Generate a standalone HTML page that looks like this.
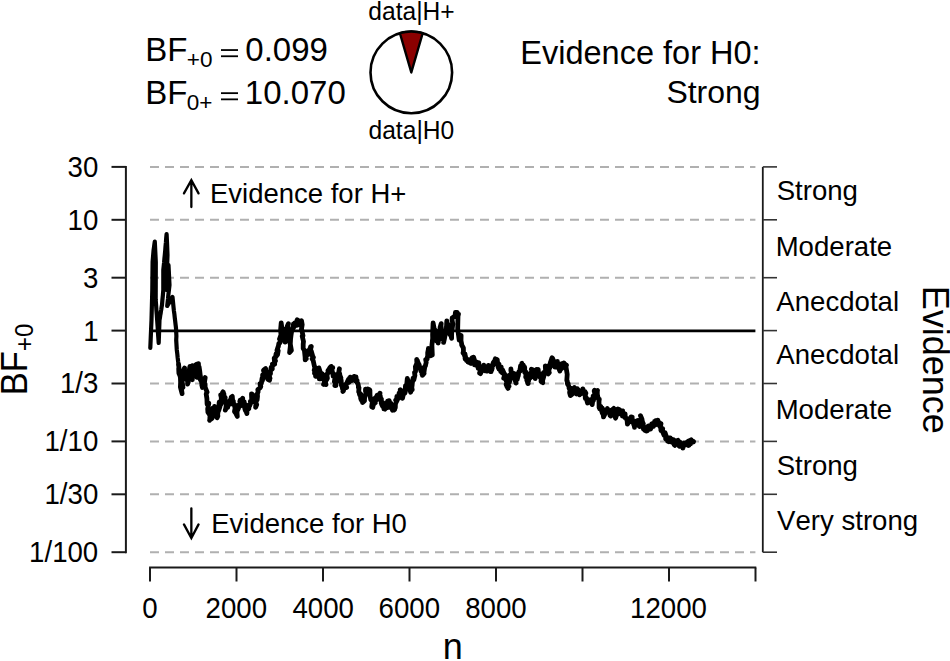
<!DOCTYPE html><html><head><meta charset="utf-8"><style>html,body{margin:0;padding:0;background:#fff;overflow:hidden;width:950px;height:661px;}svg{display:block;}text{font-family:"Liberation Sans",sans-serif;fill:#000;font-kerning:none;}</style></head><body>
<svg width="950" height="661" viewBox="0 0 950 661">
<rect width="950" height="661" fill="#fff"/>
<line x1="150.0" y1="166.9" x2="755.4" y2="166.9" stroke="#b0b0b0" stroke-width="2" stroke-dasharray="9 6"/>
<line x1="150.0" y1="219.8" x2="755.4" y2="219.8" stroke="#b0b0b0" stroke-width="2" stroke-dasharray="9 6"/>
<line x1="150.0" y1="277.7" x2="755.4" y2="277.7" stroke="#b0b0b0" stroke-width="2" stroke-dasharray="9 6"/>
<line x1="150.0" y1="383.5" x2="755.4" y2="383.5" stroke="#b0b0b0" stroke-width="2" stroke-dasharray="9 6"/>
<line x1="150.0" y1="441.4" x2="755.4" y2="441.4" stroke="#b0b0b0" stroke-width="2" stroke-dasharray="9 6"/>
<line x1="150.0" y1="494.3" x2="755.4" y2="494.3" stroke="#b0b0b0" stroke-width="2" stroke-dasharray="9 6"/>
<line x1="150.0" y1="552.2" x2="755.4" y2="552.2" stroke="#b0b0b0" stroke-width="2" stroke-dasharray="9 6"/>
<line x1="150.0" y1="330.9" x2="755.4" y2="330.9" stroke="#000" stroke-width="2.8"/>
<line x1="125.9" y1="166.9" x2="125.9" y2="552.2" stroke="#1a1a1a" stroke-width="2" stroke-linecap="square"/>
<line x1="111.5" y1="166.9" x2="125.9" y2="166.9" stroke="#1a1a1a" stroke-width="2"/>
<text transform="translate(67.54,176.83) scale(0.98,1.045)" font-size="28.2">30</text>
<line x1="111.5" y1="219.8" x2="125.9" y2="219.8" stroke="#1a1a1a" stroke-width="2"/>
<text transform="translate(67.54,229.70) scale(0.98,1.045)" font-size="28.2">10</text>
<line x1="111.5" y1="277.7" x2="125.9" y2="277.7" stroke="#1a1a1a" stroke-width="2"/>
<text transform="translate(83.04,287.63) scale(0.98,1.045)" font-size="28.2">3</text>
<line x1="111.5" y1="330.6" x2="125.9" y2="330.6" stroke="#1a1a1a" stroke-width="2"/>
<text transform="translate(83.18,340.50) scale(0.98,1.045)" font-size="28.2">1</text>
<line x1="111.5" y1="383.5" x2="125.9" y2="383.5" stroke="#1a1a1a" stroke-width="2"/>
<text transform="translate(60.00,393.37) scale(0.98,1.045)" font-size="28.2">1/3</text>
<line x1="111.5" y1="441.4" x2="125.9" y2="441.4" stroke="#1a1a1a" stroke-width="2"/>
<text transform="translate(44.49,451.30) scale(0.98,1.045)" font-size="28.2">1/10</text>
<line x1="111.5" y1="494.3" x2="125.9" y2="494.3" stroke="#1a1a1a" stroke-width="2"/>
<text transform="translate(44.49,504.17) scale(0.98,1.045)" font-size="28.2">1/30</text>
<line x1="111.5" y1="552.2" x2="125.9" y2="552.2" stroke="#1a1a1a" stroke-width="2"/>
<text transform="translate(29.12,562.10) scale(0.98,1.045)" font-size="28.2">1/100</text>
<line x1="762.8" y1="166.9" x2="762.8" y2="552.2" stroke="#1a1a1a" stroke-width="1.8"/>
<line x1="762.8" y1="166.9" x2="777" y2="166.9" stroke="#333" stroke-width="1.6"/>
<line x1="762.8" y1="219.8" x2="777" y2="219.8" stroke="#333" stroke-width="1.6"/>
<line x1="762.8" y1="277.7" x2="777" y2="277.7" stroke="#333" stroke-width="1.6"/>
<line x1="762.8" y1="330.6" x2="777" y2="330.6" stroke="#333" stroke-width="1.6"/>
<line x1="762.8" y1="383.5" x2="777" y2="383.5" stroke="#333" stroke-width="1.6"/>
<line x1="762.8" y1="441.4" x2="777" y2="441.4" stroke="#333" stroke-width="1.6"/>
<line x1="762.8" y1="494.3" x2="777" y2="494.3" stroke="#333" stroke-width="1.6"/>
<line x1="762.8" y1="552.2" x2="777" y2="552.2" stroke="#333" stroke-width="1.6"/>
<text transform="translate(776.65,200.27) scale(1.0,1.03)" font-size="27.6">Strong</text>
<text transform="translate(775.64,255.67) scale(1.0,1.03)" font-size="27.6">Moderate</text>
<text transform="translate(776.35,311.07) scale(1.0,1.03)" font-size="27.6">Anecdotal</text>
<text transform="translate(776.35,363.93) scale(1.0,1.03)" font-size="27.6">Anecdotal</text>
<text transform="translate(775.64,419.33) scale(1.0,1.03)" font-size="27.6">Moderate</text>
<text transform="translate(776.65,474.73) scale(1.0,1.03)" font-size="27.6">Strong</text>
<text transform="translate(777.08,530.13) scale(1.0,1.03)" font-size="27.6">Very strong</text>
<line x1="149.1" y1="567.6" x2="756.3" y2="567.6" stroke="#1a1a1a" stroke-width="2"/>
<line x1="150.0" y1="567.6" x2="150.0" y2="581.5" stroke="#1a1a1a" stroke-width="2"/>
<text transform="translate(142.32,617.80) scale(0.98,1.035)" font-size="28.2">0</text>
<line x1="236.5" y1="567.6" x2="236.5" y2="581.5" stroke="#1a1a1a" stroke-width="2"/>
<text transform="translate(205.61,617.80) scale(0.98,1.035)" font-size="28.2">2000</text>
<line x1="323.0" y1="567.6" x2="323.0" y2="581.5" stroke="#1a1a1a" stroke-width="2"/>
<text transform="translate(292.48,617.80) scale(0.98,1.035)" font-size="28.2">4000</text>
<line x1="409.5" y1="567.6" x2="409.5" y2="581.5" stroke="#1a1a1a" stroke-width="2"/>
<text transform="translate(378.60,617.80) scale(0.98,1.035)" font-size="28.2">6000</text>
<line x1="496.0" y1="567.6" x2="496.0" y2="581.5" stroke="#1a1a1a" stroke-width="2"/>
<text transform="translate(465.20,617.80) scale(0.98,1.035)" font-size="28.2">8000</text>
<line x1="582.5" y1="567.6" x2="582.5" y2="581.5" stroke="#1a1a1a" stroke-width="2"/>
<line x1="669.0" y1="567.6" x2="669.0" y2="581.5" stroke="#1a1a1a" stroke-width="2"/>
<text transform="translate(630.06,617.80) scale(0.98,1.035)" font-size="28.2">12000</text>
<line x1="755.5" y1="567.6" x2="755.5" y2="581.5" stroke="#1a1a1a" stroke-width="2"/>
<text x="442.66" y="659.00" font-size="36">n</text>
<g transform="translate(26.7,392.3) rotate(-90)">
<text x="-2.9" y="0" font-size="34.5" transform="scale(1,1.05)">BF<tspan font-size="24.2" dy="6.1">+0</tspan></text></g>
<g transform="translate(922.8,285.8) rotate(90)"><text x="0" y="0" font-size="36">Evidence</text></g>
<path d="M191.35,207.0 L191.35,180.2 M183.95,193.39999999999998 L191.35,180.2 L198.54999999999998,193.39999999999998" fill="none" stroke="#000" stroke-width="2.3" stroke-linecap="round" stroke-linejoin="miter"/>
<path d="M191.35,508.3 L191.35,538.0 M183.95,524.4 L191.35,538.0 L198.54999999999998,524.4" fill="none" stroke="#000" stroke-width="2.3" stroke-linecap="round" stroke-linejoin="miter"/>
<text x="209.94" y="202.50" font-size="27.5">Evidence for H+</text>
<text x="211.24" y="533.10" font-size="27.5">Evidence for H0</text>
<text x="145.19" y="61.20" font-size="33.0">BF</text>
<text x="186.80" y="67.00" font-size="22.5">+0</text>
<rect x="221" y="49.15" width="17" height="1.8" fill="#000"/><rect x="221" y="55.35" width="17" height="1.8" fill="#000"/>
<text x="245.31" y="61.20" font-size="33.0">0.099</text>
<text x="145.19" y="104.20" font-size="33.0">BF</text>
<text x="186.82" y="110.20" font-size="22.5">0+</text>
<rect x="221" y="92.25" width="17" height="1.8" fill="#000"/><rect x="221" y="98.45" width="17" height="1.8" fill="#000"/>
<text x="244.86" y="104.20" font-size="33.0">10.070</text>
<text x="520.31" y="64.30" font-size="32.5">Evidence for H0:</text>
<text x="666.38" y="103.40" font-size="32.0">Strong</text>
<circle cx="411.3" cy="72.4" r="40.8" fill="#fff" stroke="#000" stroke-width="2.6"/>
<path d="M411.3,72.4 L399.91,33.22 A40.8,40.8 0 0 1 422.69,33.22 Z" fill="#8b0000" stroke="#000" stroke-width="2.4" stroke-linejoin="round"/>
<text transform="translate(368.29,19.90) scale(1.0,1.05)" font-size="24.6">data|H+</text>
<text transform="translate(368.51,139.40) scale(1.0,1.05)" font-size="24.6">data|H0</text>
<polyline points="150.3,348.0 150.7,338.7 151.1,329.3 151.5,320.0 151.9,305.0 152.3,290.0 152.6,262.0 153.1,256.0 153.6,250.0 154.0,247.2 154.4,244.3 154.8,241.5 155.3,251.8 155.8,262.0 155.7,300.0 156.1,305.0 156.4,310.0 156.8,315.0 157.2,320.6 157.6,326.2 157.9,331.8 158.3,337.4 158.7,343.0 159.1,331.5 159.5,320.0 159.9,317.9 160.2,315.7 160.6,313.6 160.9,311.4 161.3,309.3 161.6,307.1 162.0,305.0 162.4,300.0 162.9,295.0 163.3,290.0 163.3,270.0 163.7,266.2 164.1,262.5 164.4,258.8 164.8,255.0 165.2,250.8 165.5,246.6 165.9,242.4 166.2,238.2 166.6,234.0 167.1,244.5 167.5,255.0 167.1,266.7 166.7,278.3 166.3,290.0 166.7,285.8 167.0,281.7 167.4,277.5 167.8,273.3 168.1,269.2 168.5,265.0 169.0,275.0 169.5,285.0 169.1,288.5 168.7,292.0 168.3,295.5 168.0,299.0 167.6,302.5 167.2,306.0 167.6,305.4 167.9,304.8 168.3,304.2 168.6,303.6 169.0,303.0 169.3,302.4 169.7,301.8 170.0,301.2 170.4,300.6 170.7,300.0 171.1,299.4 171.4,298.8 171.8,298.2 172.1,297.6 172.5,297.0 173.0,302.0 173.5,307.0 173.9,310.7 174.4,314.3 174.8,318.0 175.2,321.3 175.6,324.7 176.0,328.0 176.4,336.0 176.2,340.0 176.8,350.0 177.3,354.0 177.7,358.0 178.2,362.0 178.6,364.6" fill="none" stroke="#000" stroke-width="4.2" stroke-linejoin="round" stroke-linecap="round"/>
<polyline points="178.6,364.6 178.9,367.2 178.7,368.9 178.9,373.2 179.8,375.2 180.4,377.5 180.6,382.2 180.4,387.1 182.1,393.6 181.4,388.5 183.0,387.5 182.4,383.7 182.1,382.1 182.9,377.9 183.0,370.8 184.6,368.0 184.5,368.7 184.5,372.2 184.3,373.1 184.9,371.9 185.7,376.3 186.3,375.7 186.2,377.7 187.3,380.7 187.4,379.2 188.3,381.9 187.6,384.1 187.7,381.8 189.3,375.4 189.2,370.5 189.9,366.3 190.1,366.3 190.0,370.1 190.9,372.5 191.0,375.1 192.3,379.7 192.2,374.4 192.6,368.8 193.5,368.2 192.6,365.6 193.7,366.7 193.7,368.1 193.4,372.1 195.0,374.8 194.4,371.9 195.9,370.0 195.5,365.2 196.7,364.2 197.0,368.3 196.6,368.4 197.8,371.5 196.9,377.3 197.5,368.4 198.5,363.7 198.4,367.6 199.1,366.9 199.7,370.9 200.3,376.1 200.5,376.1 199.9,378.7 201.6,381.7 202.0,383.4 201.7,382.9 202.5,383.3 201.8,385.0 202.4,387.5 202.6,386.0 203.1,382.0 203.9,380.3 205.2,377.6 204.3,383.2 205.1,384.0 205.1,387.1 207.1,392.1 206.6,392.8 206.2,394.1 206.9,398.5 207.1,404.1 208.8,403.3 207.7,409.0 207.9,412.2 210.0,415.3 209.8,420.1 209.6,420.3 210.7,418.6 211.0,419.2 210.4,417.0 212.1,418.1 212.2,417.1 212.4,415.7 212.4,411.5 211.9,410.9 212.7,408.1 213.8,408.0 213.8,410.2 215.1,408.9 214.4,407.8 214.5,406.4 214.9,408.6 216.6,413.0 216.2,416.4 217.2,417.8 217.3,413.5 217.9,416.2 217.7,413.9 218.6,409.6 219.0,408.9 218.6,410.7 220.0,406.4 218.9,406.6 219.2,402.1 220.8,404.6 221.1,399.3 221.2,402.1 221.3,397.5 220.7,394.9 222.2,397.7 223.1,394.0 223.3,392.1 222.5,392.6 223.0,391.9 223.9,393.9 223.9,396.1 225.2,397.6 224.7,400.8 225.9,404.1 226.2,405.4 225.9,407.9 225.3,410.1 226.0,408.8 227.4,405.7 227.2,405.7 227.7,407.5 228.0,404.6 228.8,404.9 228.8,401.7 228.6,401.5 229.4,403.3 230.2,401.3 230.0,402.2 230.4,399.8 231.1,398.4 231.2,397.2 232.3,396.4 232.5,398.9 231.8,401.6 233.4,401.1 232.3,403.9 233.2,401.7 233.2,402.9 234.4,404.3 235.2,409.3 235.2,407.6 234.5,411.5 236.4,414.1 236.7,412.2 236.3,414.5 237.3,416.4 236.9,411.2 237.1,411.9 237.4,409.2 237.2,410.8 238.3,408.9 238.5,405.1 239.1,407.1 240.4,403.2 240.7,405.8 239.8,401.3 241.0,399.9 240.2,400.0 242.0,399.7 241.2,400.6 242.7,398.2 242.7,401.3 241.9,399.8 242.9,403.8 244.2,401.7 244.3,405.5 244.7,403.7 245.1,404.6 244.5,407.5 245.9,408.9 244.8,408.5 245.4,410.7 245.6,409.6 246.0,410.3 246.5,412.6 246.9,413.6 247.0,411.2 247.1,409.2 247.4,407.6 248.8,408.8 249.0,404.9 248.7,407.5 249.6,405.8 250.7,403.0 250.4,401.3 251.7,401.6 251.7,398.7 251.7,399.4 251.6,396.7 251.5,393.8 253.0,394.9 252.3,396.8 253.9,396.9 254.0,401.9 253.6,399.9 254.3,401.0 254.7,401.3 256.0,402.8 255.6,407.4 256.7,404.7 256.0,403.0 256.5,399.5 257.1,399.9 257.5,396.5 257.4,393.5 258.1,391.9 257.8,389.7 258.5,389.0 259.5,388.4 260.0,388.0 260.8,386.6 260.1,383.7 260.2,385.4 261.4,382.9 262.1,378.2 262.1,381.2 262.8,379.2 262.6,374.9 263.5,375.5 263.8,375.8 264.3,373.4 264.3,373.3 263.5,370.4 264.4,369.4 265.6,368.6 265.6,370.3 266.1,371.6 265.2,371.9 266.9,374.5 266.9,374.0 266.4,375.8 267.1,377.2 267.5,374.9 267.7,379.1 269.5,380.2 268.8,380.0 269.7,378.4 270.0,378.3 269.4,376.2 270.1,372.2 270.5,373.7 270.4,371.3 271.2,367.3 272.3,368.9 272.0,367.6 272.7,365.6 272.4,364.1 273.0,365.0 274.7,364.1 274.2,358.1 275.5,360.8 274.6,357.7 276.2,355.7 275.9,354.8 276.1,353.6 275.8,356.8 276.8,355.3 277.5,354.8 278.2,350.7 277.0,350.3 278.3,346.2 278.3,346.8 278.8,343.5 280.0,342.7 280.3,339.5 279.5,339.1 281.0,334.9 280.6,330.1 281.2,322.9 281.9,328.3 282.0,327.4 281.6,329.3 283.4,330.8 283.9,334.0 283.1,336.1 283.3,339.7 285.0,341.4 285.1,342.2 285.7,339.2 285.4,339.0 284.9,336.2 286.0,334.5 286.7,332.9 286.0,328.8 286.5,330.3 287.3,326.3 288.4,323.7 287.9,325.4 288.3,329.7 288.8,335.1 288.8,339.0 290.5,345.1 289.6,352.5 291.4,350.4 290.3,344.1 290.6,338.7 291.0,335.4 291.7,330.8 293.2,328.3 292.7,328.7 293.3,326.6 293.3,325.9 293.5,323.8 293.6,327.8 294.9,325.0 294.5,326.3 294.9,322.9 295.6,323.0 296.7,325.3 295.6,324.4 297.2,319.7 297.1,324.1 296.7,322.6 298.7,321.7 299.0,324.0 298.3,324.8 298.5,320.6 299.8,322.7 300.3,324.9 300.7,323.6 300.7,322.7 301.5,320.7 302.2,324.7 301.4,329.7 301.8,330.1 303.0,335.7 302.2,336.1 303.5,341.5 303.2,344.1 303.2,348.5 304.4,350.3 305.1,357.0 305.2,359.9 305.1,356.0 306.3,358.9 305.4,354.9 306.9,355.2 306.5,354.1 308.1,354.6 306.8,351.7 307.9,351.6 307.8,352.6 309.2,352.5 308.6,350.3 309.1,351.9 309.3,350.5 310.6,346.8 311.3,346.5 310.3,349.9 311.2,350.9 312.5,355.5 311.9,355.2 313.4,357.4 312.1,358.9 313.1,360.3 314.4,366.3 315.0,367.3 314.2,370.2 315.7,368.4 314.5,373.2 315.5,374.8 315.8,375.4 315.6,376.3 316.6,374.9 316.6,376.3 317.2,374.3 318.7,369.3 318.4,369.6 318.9,367.9 320.1,371.8 319.5,373.1 319.3,378.8 321.1,378.6 320.0,378.8 320.5,373.7 321.2,376.6 322.7,374.2 321.9,373.5 322.9,377.9 323.4,375.7 323.0,377.3 324.2,377.1 324.3,383.0 323.6,384.4 324.8,382.2 326.0,384.6 325.1,380.6 325.9,379.6 325.7,381.0 327.0,379.2 327.4,378.1 327.0,375.9 327.4,373.3 327.2,374.4 328.8,370.9 328.0,370.6 329.2,368.9 330.4,369.8 330.8,372.0 329.5,368.3 330.7,366.8 331.0,369.3 331.3,366.4 332.1,367.7 332.8,367.7 331.9,369.4 332.5,372.4 333.0,373.2 333.1,376.1 333.5,375.8 335.0,377.4 334.4,381.7 335.9,382.9 334.9,385.5 336.0,385.5 335.4,384.9 337.0,380.7 337.5,381.0 336.8,375.5 336.9,374.3 338.0,377.0 338.0,375.3 338.5,373.4 339.4,368.8 338.6,374.0 339.8,374.1 339.8,374.0 339.8,375.4 340.9,377.7 340.6,381.5 341.2,380.1 341.3,385.2 341.7,385.2 342.7,389.4 342.2,387.5 343.4,391.0 342.9,391.4 344.4,388.2 344.0,388.5 345.5,387.2 345.2,386.4 345.3,385.8 346.7,387.5 345.6,384.2 346.0,385.1 347.6,381.1 347.8,382.8 348.2,382.3 347.3,382.1 348.3,379.5 349.3,382.2 349.2,379.0 349.3,380.0 349.3,378.5 350.8,379.9 350.3,377.5 351.5,380.5 350.4,377.1 352.3,380.4 350.9,377.7 351.9,379.5 352.7,378.9 352.2,378.1 352.7,378.2 354.2,376.7 353.4,379.1 354.1,376.4 354.5,378.2 354.6,376.5 356.2,379.9 356.0,376.8 355.4,380.7 355.9,381.4 357.1,380.5 357.0,382.6 357.9,383.6 358.4,385.6 358.4,387.7 359.0,387.6 358.7,391.9 360.1,394.3 359.4,393.7 359.6,394.7 360.6,393.9 360.9,394.7 360.6,397.8 361.0,399.3 362.7,400.8 361.7,400.6 362.7,401.5 362.6,402.5 364.5,400.7 364.5,398.8 365.2,394.9 365.5,395.1 364.4,395.9 366.2,394.0 365.5,389.1 365.5,391.3 366.1,392.2 366.2,392.0 368.0,390.6 367.2,389.3 367.6,391.0 367.7,388.9 369.5,389.7 369.8,392.5 369.9,390.1 369.9,390.1 370.0,395.5 370.7,399.5 371.7,400.8 372.4,401.2 371.7,406.6 371.8,406.9 372.8,407.4 373.5,403.7 372.8,403.5 372.9,404.5 373.6,404.3 375.3,402.8 375.1,402.0 374.3,400.1 374.9,398.2 375.8,400.5 377.0,399.5 376.2,397.0 376.2,399.1 377.1,395.3 377.5,395.2 378.3,395.3 377.9,396.5 378.8,396.2 380.0,393.2 379.0,395.0 380.2,395.6 380.9,400.7 380.3,399.7 381.4,399.0 381.2,403.0 381.8,404.7 382.7,406.5 383.4,403.5 383.1,402.8 382.9,405.0 384.3,403.6 384.2,403.7 383.9,408.8 385.1,405.4 385.5,407.3 385.0,409.2 385.6,407.0 387.1,404.9 387.1,407.8 387.7,403.1 387.3,406.0 387.7,405.1 387.4,401.8 387.6,401.0 389.2,400.7 389.8,403.1 389.1,403.8 389.8,403.6 390.3,405.4 390.9,403.4 390.5,407.5 390.5,407.7 391.2,405.2 392.9,408.3 392.1,408.9 392.5,410.2 393.9,407.6 393.8,410.2 394.7,409.4 394.9,407.5 395.3,407.7 395.4,405.5 395.1,405.2 396.0,402.5 396.9,400.9 395.7,400.1 397.7,398.9 396.7,399.0 396.9,396.3 398.4,398.5 398.9,397.4 399.0,393.2 399.8,393.6 400.3,394.8 400.7,389.9 401.2,393.1 400.2,389.9 400.3,390.8 402.1,395.3 402.5,395.1 401.9,395.9 401.9,394.1 402.5,398.3 403.2,394.9 403.3,392.1 404.5,392.2 404.2,391.4 404.9,393.2 405.4,391.4 405.4,386.0 406.4,386.8 406.7,385.2 406.2,384.9 406.3,385.3 406.8,383.8 407.3,378.5 409.0,383.6 408.5,381.1 409.4,384.8 409.2,384.5 410.2,386.6 410.7,387.5 409.8,388.9 410.6,392.2 411.2,390.5 411.9,388.6 412.2,389.8 411.8,387.6 412.2,384.7 412.0,385.3 412.3,383.4 413.1,378.2 413.8,379.8 414.9,375.4 414.5,372.5 415.4,371.9 415.6,370.8 415.4,366.7 416.7,363.6 416.9,364.0 416.7,359.3 417.3,363.1 417.5,360.6 417.5,365.1 418.0,362.3 419.3,365.6 418.5,363.6 419.2,364.7 419.3,367.1 419.7,367.1 421.0,371.4 421.8,368.0 421.1,369.0 422.3,374.4 422.0,374.2 422.7,372.5 422.3,373.0 422.4,375.4 424.1,373.5 423.9,373.0 424.2,370.7 424.9,366.2 425.5,365.5 425.3,366.0 426.2,362.4 425.7,359.6 427.2,359.1 427.3,357.4 427.7,355.8 427.7,352.7 428.4,349.1 428.4,348.5 429.3,352.5 428.8,352.3 429.5,351.8 429.8,353.4 431.1,354.2 431.0,352.3 430.8,355.8 432.3,354.9 431.9,345.2 432.7,338.3 432.6,334.7 433.1,323.0 433.8,326.6 434.0,327.9 434.1,330.9 435.3,330.2 435.1,330.7 435.6,333.0 436.4,333.1 435.1,335.7 436.1,336.7 436.5,336.8 437.3,340.3 436.9,341.3 438.1,342.1 438.1,343.1 439.0,336.8 438.3,335.0 439.7,331.1 439.9,331.8 440.1,327.5 441.2,323.6 441.0,326.1 441.7,330.3 441.1,330.4 441.2,332.6 442.0,335.9 442.2,337.9 442.5,337.3 442.8,339.4 444.1,339.2 443.6,342.4 444.5,338.4 445.2,334.9 445.1,332.0 446.4,329.2 446.8,320.8 447.1,326.1 447.5,323.4 446.4,326.9 448.5,324.9 447.6,329.2 447.8,327.5 449.3,329.2 448.5,330.8 450.0,334.7 450.6,332.1 450.8,335.4 451.3,336.8 451.6,338.4 451.7,331.2 452.2,328.7 452.8,323.9 452.1,320.3 452.2,317.8 452.5,318.3 453.0,317.3 454.0,316.5 455.1,315.9 455.4,312.4 455.3,313.8 456.2,315.0 455.8,313.6 455.5,316.7 456.8,315.2 457.1,312.3 458.1,315.7 458.5,314.0 458.0,315.1 457.7,329.0 459.2,340.1 460.1,337.6 459.8,337.1 460.7,337.3 460.5,335.2 461.1,335.6 461.0,340.6 461.6,343.6 461.7,345.0 463.4,348.0 463.5,353.8 463.1,353.0 464.0,353.6 464.7,356.1 465.0,353.9 465.1,358.9 465.0,355.1 465.2,355.3 466.3,360.2 467.0,359.3 467.1,360.9 467.5,359.8 467.8,360.6 467.5,360.9 468.3,361.2 468.1,362.1 468.4,359.6 470.3,363.0 469.8,362.8 470.9,363.4 470.3,361.8 471.0,360.3 471.4,360.1 472.6,361.5 472.3,358.3 471.9,357.9 473.1,361.6 473.2,361.8 473.5,357.1 474.9,361.5 474.5,364.9 474.3,363.6 474.8,364.8 474.9,362.5 476.4,361.9 477.3,362.6 477.5,362.5 476.3,362.8 477.1,365.9 477.4,366.1 478.8,362.8 479.3,367.2 478.3,368.4 479.7,369.1 480.5,369.4 480.9,369.5 479.6,372.9 481.1,370.6 480.4,373.7 481.9,370.3 482.5,368.8 481.4,369.5 482.7,368.1 483.3,367.6 483.8,365.2 483.9,366.7 483.9,368.5 484.9,367.7 485.2,370.9 484.7,369.5 486.3,367.4 486.4,371.0 486.4,368.5 487.1,371.1 486.6,368.5 488.0,367.0 488.0,366.1 488.7,366.5 488.0,368.5 488.4,365.5 489.4,368.6 490.3,371.6 490.6,368.7 491.0,371.7 490.3,369.6 491.7,370.1 492.2,368.4 491.1,365.9 492.8,366.0 493.1,363.4 492.5,366.2 493.7,363.9 493.2,362.6 494.5,360.9 494.3,363.0 495.3,358.8 494.6,361.6 496.2,360.0 495.8,360.9 496.3,359.7 496.0,359.1 497.3,359.9 497.4,361.6 497.7,362.7 497.2,362.2 498.2,367.5 499.0,364.0 498.6,368.4 499.3,368.5 499.1,369.1 501.2,367.0 500.7,371.5 500.7,370.3 501.3,371.7 502.3,372.9 503.0,372.6 501.7,370.1 502.4,370.2 502.5,369.9 504.3,373.7 504.9,374.6 503.7,378.3 504.6,378.1 506.0,377.1 505.7,379.2 506.8,382.6 506.2,384.1 506.1,384.4 508.0,388.4 506.7,386.1 507.6,384.6 509.0,386.2 507.8,384.2 509.4,382.3 510.2,380.0 509.1,375.4 510.9,377.2 510.1,375.2 511.3,373.1 510.9,369.0 510.9,370.6 511.3,372.5 511.7,372.1 511.8,375.1 512.5,376.1 514.2,373.5 514.6,375.3 514.9,379.3 514.4,376.5 515.7,377.1 515.5,381.6 515.3,380.5 516.0,383.1 515.7,381.1 515.9,378.0 517.2,379.5 518.1,375.6 517.7,375.2 517.8,373.6 518.2,376.0 518.9,371.6 520.0,371.3 520.5,369.3 520.7,367.9 519.8,370.0 520.3,368.0 520.5,365.9 522.3,365.4 522.6,367.5 521.8,363.3 521.8,367.6 522.6,367.0 522.5,368.5 523.4,368.0 523.2,364.9 524.5,368.7 524.7,367.2 524.7,372.6 524.9,372.7 526.4,372.5 525.7,376.9 525.9,375.6 527.0,380.0 526.8,380.1 528.1,383.6 528.2,383.4 527.7,379.1 528.7,380.6 528.4,379.4 529.3,378.6 530.6,377.6 529.5,374.7 530.7,375.6 530.7,374.2 532.1,369.6 531.3,369.3 532.4,370.5 532.7,369.8 533.0,373.2 533.8,372.7 534.4,377.3 534.5,376.0 535.0,377.4 535.5,375.0 535.2,378.7 535.6,375.7 535.1,375.1 535.8,376.4 535.9,371.7 537.6,371.3 536.6,369.4 537.2,372.0 538.2,369.4 538.5,373.0 538.1,374.5 539.5,376.2 538.8,372.9 539.9,376.0 539.5,375.7 539.9,377.2 541.6,379.0 541.4,377.6 541.0,381.4 542.8,382.6 542.2,379.0 542.8,379.8 543.9,376.1 543.2,376.6 543.5,372.5 545.1,372.0 545.3,372.4 545.6,371.0 545.3,365.8 546.5,370.0 546.0,366.2 546.3,367.9 546.1,367.2 547.3,367.5 547.0,366.3 548.4,371.8 548.5,372.5 549.3,372.7 548.2,373.9 548.9,370.6 549.3,368.7 550.8,366.0 550.0,364.3 550.6,361.7 550.7,361.8 551.7,358.6 552.0,357.8 552.2,362.0 552.4,358.7 552.2,360.1 552.5,358.1 553.4,360.3 553.5,361.6 554.4,361.9 554.9,367.0 555.3,367.0 555.8,366.5 555.9,367.1 556.1,367.1 556.1,364.9 556.9,363.8 557.4,363.8 557.4,361.3 557.5,364.8 558.4,365.0 559.7,365.4 559.7,367.2 558.8,368.3 559.9,371.1 560.2,366.3 561.2,367.4 560.6,365.0 561.9,368.4 561.6,363.6 562.6,363.9 563.3,364.4 563.1,364.7 563.9,363.5 563.8,362.8 564.5,363.7 563.9,365.1 564.0,365.6 565.4,365.8 566.5,365.2 565.9,366.4 567.2,374.4 566.8,380.5 567.3,381.1 567.4,383.8 568.2,383.5 568.2,384.8 569.5,388.2 569.1,388.1 569.2,387.9 570.1,389.0 569.6,392.6 570.4,395.6 571.7,394.6 570.9,394.5 572.5,391.1 571.3,388.4 572.5,390.5 573.3,391.6 574.1,389.0 573.6,388.3 573.7,388.4 574.4,387.5 575.4,388.3 575.0,390.6 575.1,388.5 575.8,390.8 576.7,392.4 576.3,394.0 576.9,391.0 576.8,393.5 578.0,390.8 577.4,388.7 578.7,392.4 577.8,390.8 579.2,393.4 580.1,393.7 579.5,394.8 579.7,391.9 580.4,394.3 580.2,393.4 581.5,393.2 582.7,389.3 581.3,391.0 583.0,390.2 583.2,390.0 582.9,388.9 583.7,393.4 583.4,392.8 584.4,392.3 584.9,391.5 585.9,393.2 585.2,394.8 585.1,393.9 585.3,398.5 585.8,396.7 587.3,400.2 587.7,402.1 586.6,399.4 587.5,403.0 587.9,402.8 588.2,400.2 589.7,399.9 589.0,402.4 589.5,401.8 590.8,399.9 591.3,402.6 591.0,402.0 590.3,401.1 592.2,404.6 592.6,401.6 591.9,402.8 593.4,400.5 593.8,398.6 593.1,396.1 593.2,397.2 594.7,393.9 594.9,393.5 594.2,391.0 594.5,390.3 595.1,393.6 595.1,391.9 596.0,392.0 595.8,391.7 597.5,390.5 596.9,392.0 597.3,391.5 597.3,394.3 598.3,399.0 599.3,399.1 599.0,401.4 599.1,407.7 600.8,406.5 599.9,409.0 601.3,407.5 602.1,408.4 602.4,408.3 601.5,410.5 601.7,411.0 602.3,413.0 603.3,414.7 603.0,412.8 603.3,414.8 603.5,416.9 604.7,414.4 605.5,412.4 605.6,412.3 605.4,412.5 605.4,410.9 607.1,409.1 607.2,409.1 607.4,408.5 607.7,410.3 607.3,410.5 608.0,411.1 609.2,410.6 609.1,411.9 610.1,415.5 610.7,415.9 610.0,411.5 611.1,410.4 610.9,412.9 611.8,411.0 611.5,411.8 612.0,411.9 612.1,410.1 613.8,408.4 613.8,412.3 612.9,409.7 613.6,411.1 614.3,412.7 614.5,412.2 614.6,416.0 615.7,417.9 615.5,418.1 616.6,415.2 615.8,413.2 617.6,414.2 616.7,409.9 618.1,412.9 617.8,408.9 619.1,409.4 619.7,410.0 618.6,412.7 619.5,412.6 620.7,412.9 619.7,410.7 620.7,414.1 621.5,414.2 622.2,413.6 621.9,413.4 622.7,410.9 622.7,413.1 622.4,416.0 622.7,415.5 624.4,415.6 624.3,413.7 624.9,417.6 624.6,415.9 625.1,413.8 625.2,416.6 625.5,417.1 626.9,420.0 626.5,418.7 627.2,421.1 627.4,424.2 628.8,422.0 628.6,420.8 629.4,421.3 629.7,421.9 629.9,419.5 629.9,421.2 630.9,421.6 630.3,417.9 630.5,418.7 631.0,416.8 632.2,417.0 631.5,419.2 632.5,419.5 632.3,420.6 632.4,420.1 634.1,425.6 634.4,422.0 634.5,427.4 634.7,422.5 634.5,423.7 634.6,423.7 636.1,425.1 636.9,423.1 636.1,422.8 636.2,421.2 637.8,420.5 637.3,425.0 638.3,422.1 639.2,425.9 639.3,422.9 639.6,426.7 639.1,422.5 639.7,423.4 640.6,419.5 641.5,417.9 640.5,415.7 641.9,418.9 642.4,421.7 643.3,423.7 642.8,423.3 642.9,423.1 642.9,426.8 643.4,428.9 645.2,428.0 643.9,426.5 644.6,428.6 644.6,430.3 646.5,431.1 646.1,431.1 646.9,428.9 646.8,429.7 647.2,428.5 648.2,429.7 647.4,430.6 648.3,427.1 648.4,428.1 648.3,425.9 649.4,426.2 650.5,429.1 651.0,428.2 650.7,428.3 650.0,427.2 651.4,426.1 651.7,423.9 651.9,426.8 651.9,425.7 653.3,424.7 652.4,423.6 653.3,426.4 654.0,423.0 654.3,424.0 654.5,423.8 654.7,424.1 654.6,421.4 655.7,424.8 656.6,420.5 655.6,420.7 656.3,421.7 657.2,421.7 657.6,420.6 657.8,420.2 657.4,422.8 657.8,422.1 659.6,422.5 659.7,423.3 659.0,425.2 660.4,427.2 661.0,423.7 660.1,426.0 661.2,429.7 660.8,429.7 661.0,430.6 661.9,428.8 662.7,428.6 662.5,430.1 663.1,433.1 663.8,434.6 664.0,435.1 664.9,435.9 665.1,432.7 665.5,434.1 665.9,436.3 665.5,434.1 666.9,438.1 665.7,438.9 666.2,439.2 667.9,439.8 668.6,438.6 667.7,441.2 668.4,438.7 669.1,441.7 668.4,438.0 670.2,437.8 670.1,438.0 670.7,438.4 670.1,438.7 671.2,441.0 672.1,439.9 671.0,441.7 671.6,439.2 673.2,440.5 672.1,442.5 673.9,439.9 673.4,442.9 673.4,442.4 674.2,444.7 674.9,445.4 674.8,441.3 676.2,441.9 675.0,443.7 676.0,441.5 676.7,442.9 676.7,442.4 677.5,440.4 676.9,441.9 679.0,442.5 677.9,440.3 678.5,443.4 679.3,441.7 679.8,442.0 680.8,443.7 679.5,446.4 681.2,444.6 681.6,446.5 681.7,445.6 681.5,444.6 682.9,447.1 682.9,448.2 683.4,444.9 683.4,446.9 683.4,446.2 683.9,445.6 684.2,443.0 685.7,444.2 684.9,444.8 685.1,443.5 685.3,443.9 687.0,442.0 686.6,444.1 686.7,444.5 686.6,442.3 687.4,442.8 688.2,444.7 688.2,445.6 689.0,445.3 688.6,440.9 690.4,443.2 690.3,441.8 690.9,442.0 690.5,440.0 690.5,443.9 690.4,440.5 691.2,439.8 691.5,442.5 691.8,441.0 693.4,442.0 692.6,442.2 693.5,441.5" fill="none" stroke="#000" stroke-width="4.8" stroke-linejoin="round" stroke-linecap="round"/>
</svg></body></html>
